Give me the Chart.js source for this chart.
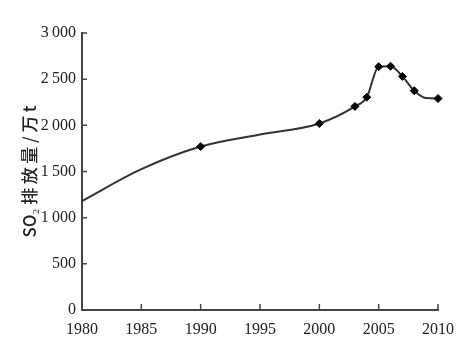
<!DOCTYPE html>
<html>
<head>
<meta charset="utf-8">
<script src="https://cdn.jsdelivr.net/npm/chart.js@4"></script>
<style>
  html, body { margin: 0; padding: 0; background: #fff; }
  #wrap { width: 473px; height: 361px; }
</style>
</head>
<body>
<div id="wrap"><canvas id="chart"></canvas></div>
<script>
// values (万 t)
var years  = [1980, 1985, 1990, 1995, 2000, 2003, 2004, 2005, 2006, 2007, 2008, 2009, 2010];
var so2    = [1180, 1525, 1770, 1900, 2020, 2205, 2305, 2635, 2640, 2530, 2375, 2295, 2290];
var marked = [false, false, true, false, true, true, true, true, true, true, true, false, true];
var yTicks = [0, 500, 1000, 1500, 2000, 2500, 3000];
var xTicks = [1980, 1985, 1990, 1995, 2000, 2005, 2010];

var axisColor = '#444';
var serif = '"Liberation Serif", "DejaVu Serif", serif';

// small tick marks pointing into the plot
var innerTicks = {
  id: 'innerTicks',
  afterDraw: function(chart) {
    var ctx = chart.ctx, x = chart.scales.x, y = chart.scales.y;
    ctx.save();
    ctx.strokeStyle = axisColor;
    ctx.lineWidth = 1.5;
    ctx.beginPath();
    yTicks.forEach(function(v) {
      if (v === 0) return;
      var py = y.getPixelForValue(v);
      ctx.moveTo(x.left, py);
      ctx.lineTo(x.left + 5, py);
    });
    xTicks.forEach(function(v) {
      if (v === 1980) return;
      var px = x.getPixelForValue(v);
      ctx.moveTo(px, y.bottom);
      ctx.lineTo(px, y.bottom - 6);
    });
    ctx.stroke();
    ctx.restore();
  }
};

var ctx = document.getElementById('chart').getContext('2d');
var chart = new Chart(ctx, {
  type: 'line',
  data: {
    datasets: [{
      data: years.map(function(yr, i) { return {x: yr, y: so2[i]}; }),
      borderColor: '#333',
      borderWidth: 2,
      cubicInterpolationMode: 'monotone',
      pointStyle: 'rectRot',
      pointRadius: marked.map(function(m) { return m ? 4 : 0; }),
      pointBackgroundColor: '#000',
      pointBorderColor: '#000',
      pointBorderWidth: 1,
      clip: false
    }]
  },
  options: {
    responsive: true,
    maintainAspectRatio: false,
    animation: false,
    layout: { padding: { top: 33, right: 35, left: 0, bottom: 0 } },
    plugins: { legend: { display: false }, tooltip: { enabled: false } },
    scales: {
      x: {
        type: 'linear',
        min: 1980, max: 2010,
        afterBuildTicks: function(s) { s.ticks = xTicks.map(function(v) { return {value: v}; }); },
        afterFit: function(s) { s.height = 51; },
        grid: { display: false, drawTicks: false },
        border: { color: axisColor, width: 2 },
        ticks: {
          padding: 10,
          color: '#222',
          font: { family: serif, size: 16 },
          maxRotation: 0,
          callback: function(v) { return String(v); }
        }
      },
      y: {
        min: 0, max: 3000,
        afterBuildTicks: function(s) { s.ticks = yTicks.map(function(v) { return {value: v}; }); },
        afterFit: function(s) { s.width = 82; },
        grid: { display: false, drawTicks: false },
        border: { color: axisColor, width: 2 },
        ticks: {
          padding: 6,
          color: '#222',
          font: { family: serif, size: 16 },
          callback: function(v) {
            return v >= 1000 ? Math.floor(v / 1000) + '\u2009' + String(v % 1000).padStart(3, '0') : String(v);
          }
        },
        title: {
          display: true,
          text: 'SO\u2082 排\u2009放\u2009量 / 万\u2009t',
          color: '#222',
          font: { family: '"Noto Sans CJK SC", ' + serif, size: 17, weight: '500' },
          padding: { top: 19, bottom: 0 }
        }
      }
    }
  },
  plugins: [innerTicks]
});
</script>
</body>
</html>
